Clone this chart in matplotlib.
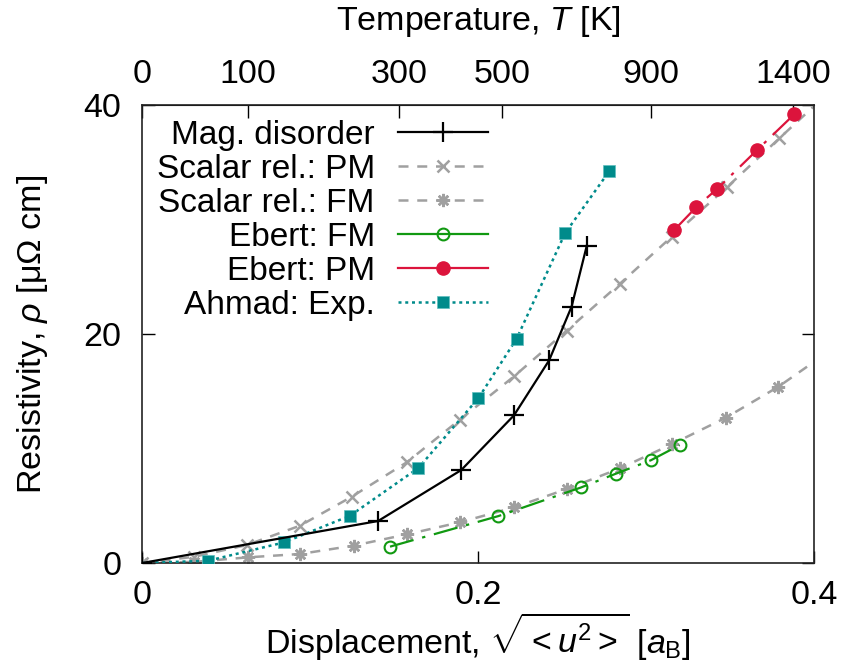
import numpy as np
import matplotlib
matplotlib.use("Agg")
from matplotlib import pyplot as plt
from matplotlib.lines import Line2D

plt.rcParams['font.family'] = ['Liberation Sans', 'DejaVu Sans']
plt.rcParams['mathtext.fontset'] = 'custom'
plt.rcParams['mathtext.rm'] = 'Liberation Sans'
plt.rcParams['mathtext.it'] = 'Liberation Sans:italic'
plt.rcParams['font.size'] = 24.5

# Mag. disorder
mag_x = [0, 0.1405, 0.190, 0.2214, 0.2423, 0.2557, 0.2647]
mag_y = [0, 3.67, 8.12, 12.9, 17.7, 22.4, 27.7]

# Scalar rel. PM / FM
pm_x = [0, 0.031, 0.0623, 0.094, 0.1248, 0.1575, 0.189, 0.2214, 0.2528, 0.2845, 0.3153, 0.348, 0.3794, 0.411]
pm_y = [0, 0.55, 1.57, 3.26, 5.79, 8.79, 12.5, 16.3, 20.3, 24.4, 28.5, 32.8, 37.1, 41.4]
fm_x = [0, 0.031, 0.0633, 0.094, 0.126, 0.1575, 0.189, 0.2214, 0.2528, 0.2845, 0.3153, 0.3476, 0.3788, 0.411]
fm_y = [0, 0.1, 0.5, 0.79, 1.52, 2.5, 3.55, 4.86, 6.46, 8.27, 10.37, 12.7, 15.4, 18.7]

# Ebert
ebfm_x = [0.1476, 0.2121, 0.2613, 0.282, 0.3028, 0.320]
ebfm_y = [1.43, 4.1, 6.6, 7.8, 8.97, 10.3]
ebpm_x = [0.3169, 0.330, 0.3425, 0.3663, 0.3883, 0.41]
ebpm_y = [29.1, 31.1, 32.7, 36.1, 39.2, 42.3]

# Ahmad experiment
ahm_x = [0, 0.0393, 0.0845, 0.1238, 0.1645, 0.2002, 0.223, 0.2518, 0.278]
ahm_y = [0, 0.2, 1.8, 4.13, 8.3, 14.4, 19.6, 28.8, 34.2]

# top axis: temperature
temp_labels = ['0', '100', '300', '500', '900', '1400']
temp_pos = [0, 0.063, 0.153, 0.2143, 0.303, 0.3875]

gray = '#a0a0a0'
teal = '#008b8b'
green = '#119911'
red = '#dc143c'
dashdot = (11, 4, 1.5, 4)

fig = plt.figure(figsize=(8.47, 6.71), dpi=100)
ax = fig.add_axes([0.1677, 0.1609, 0.7934, 0.6826])

ax.plot(pm_x, pm_y, color=gray, lw=1.8, dashes=(4, 3.5), marker='x', ms=8.5, mew=1.8, zorder=2)
ax.plot(fm_x, fm_y, color=gray, lw=1.8, dashes=(4, 3.5), marker=(8, 2, 0), ms=9.5, mew=1.8, zorder=2)
ax.plot(ahm_x, ahm_y, color=teal, lw=1.8, dashes=(1.2, 1.5), marker='s', ms=8.5, mec='#5fbfbf', mew=0.5,
        markevery=slice(1, None), zorder=3)
ax.plot(ebfm_x, ebfm_y, color=green, lw=1.6, dashes=dashdot, marker='o', ms=8.5, mfc='none', mew=1.5, zorder=3)
ax.plot(ebpm_x, ebpm_y, color=red, lw=1.6, dashes=dashdot, marker='o', ms=9.5, zorder=3)
ax.plot(mag_x, mag_y, color='black', lw=1.6, marker='+', ms=15, mew=1.6, zorder=4)

ax.set_xlim(0, 0.4)
ax.set_ylim(0, 40)
ax.set_xticks([0, 0.2, 0.4])
ax.set_xticklabels(['0', '0.2', '0.4'])
ax.set_yticks([0, 20, 40])
ax.tick_params(axis='x', direction='in', length=9, width=1, top=False, pad=12)
ax.tick_params(axis='y', direction='in', length=9, width=1, right=True, pad=15)
for s in ax.spines.values():
    s.set_linewidth(1.2)
    s.set_color('#222222')

ax.set_xlabel(r'Displacement, $\sqrt{<u^2>}$ [$a_\mathrm{B}$]', labelpad=0)
ax.set_ylabel(r'Resistivity, $\rho$ [μΩ cm]', labelpad=24)

top = ax.secondary_xaxis('top')
top.set_xticks(temp_pos)
top.set_xticklabels(temp_labels)
top.tick_params(direction='in', length=9, width=1, pad=11)
top.set_xlabel(r'Temperature, $T$ [K]', labelpad=21)

handles = [
    Line2D([], [], color='black', lw=1.6, marker='+', ms=15, mew=1.6),
    Line2D([], [], color=gray, lw=1.8, dashes=(4, 3.5), marker='x', ms=8.5, mew=1.8),
    Line2D([], [], color=gray, lw=1.8, dashes=(4, 3.5), marker=(8, 2, 0), ms=9.5, mew=1.8),
    Line2D([], [], color=green, lw=1.6, marker='o', ms=8.5, mfc='none', mew=1.5),
    Line2D([], [], color=red, lw=1.6, marker='o', ms=9.5),
    Line2D([], [], color=teal, lw=1.8, dashes=(1.2, 1.5), marker='s', ms=8.5, mec='#5fbfbf', mew=0.5),
]
labels = ['Mag. disorder', 'Scalar rel.: PM', 'Scalar rel.: FM', 'Ebert: FM', 'Ebert: PM', 'Ahmad: Exp.']
ax.legend(handles, labels, loc='upper right', bbox_to_anchor=(0.515, 0.968), frameon=False,
          markerfirst=False, numpoints=1, handlelength=2.7, handletextpad=0.7, fontsize=24,
          labelspacing=0.09, borderpad=0, borderaxespad=0)

fig.savefig('out.png', dpi=100)
